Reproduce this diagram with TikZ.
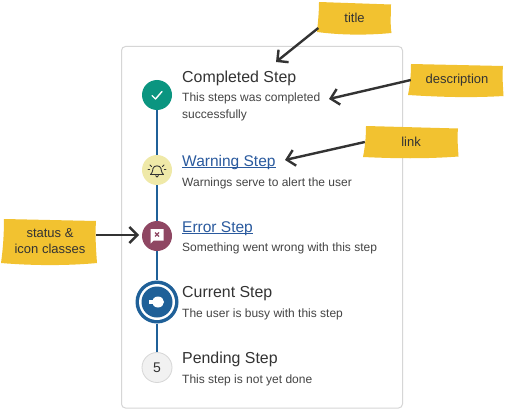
\documentclass[tikz,border=0pt]{standalone}
\usepackage{fontspec}
\setmainfont{Liberation Sans}
\usetikzlibrary{arrows.meta}
\definecolor{ink}{HTML}{333333}
\definecolor{subink}{HTML}{444444}
\definecolor{cardline}{HTML}{D6D6D6}
\definecolor{track}{HTML}{1F6098}
\definecolor{done}{HTML}{0B9580}
\definecolor{warnfill}{HTML}{EFE9A8}
\definecolor{errfill}{HTML}{8F4763}
\definecolor{pendfill}{HTML}{F1F1F1}
\definecolor{sticky}{HTML}{F2C230}
\definecolor{linkblue}{HTML}{2A5A9E}
\definecolor{arrowink}{HTML}{333333}
\newsavebox{\ulbox}
\newcommand{\ulined}[1]{\sbox{\ulbox}{#1}\rlap{\rule[-2pt]{\wd\ulbox}{1pt}}\usebox{\ulbox}}
\tikzset{
  x=1pt,y=-1pt,
  stepdot/.style={circle,inner sep=0pt,minimum size=30,line width=0.8},
  steptitle/.style={anchor=base west,inner sep=0pt,text=ink,font=\fontsize{15.9}{18}\selectfont},
  steplink/.style={anchor=base west,inner sep=0pt,text=linkblue,font=\fontsize{15.5}{18}\selectfont},
  stepdesc/.style={anchor=base west,inner sep=0pt,text=subink,font=\fontsize{12}{14}\selectfont},
  track line/.style={draw=track,line width=2.8},
  note/.style={fill=sticky,draw=none},
  notetext/.style={inner sep=0pt,text=ink,align=center,font=\fontsize{13}{16}\selectfont},
  callout/.style={draw=arrowink,line width=2.4,-{Straight Barb[length=8,width=16,line width=2.4]}},
}
\begin{document}
\begin{tikzpicture}
\useasboundingbox (0,0) rectangle (505,417);
\fill[white] (0,0) rectangle (505,417);
% card
\draw[cardline,line width=1,rounded corners=4] (121.5,46.5) rectangle (402.5,408);
% step markers
\node[stepdot,fill=done] (s1) at (157,95) {};
\node[stepdot,fill=warnfill] (s2) at (157,170) {};
\node[stepdot,fill=errfill] (s3) at (157,236) {};
\node[circle,inner sep=0pt,minimum size=43,fill=track] (s4) at (157,302) {};
\node[stepdot,fill=pendfill,draw=cardline,text=ink,font=\fontsize{14}{16}\selectfont] (s5) at (157,367.5) {5};
% track
\draw[track line] (s1) -- (s2);
\draw[track line] (s2) -- (s3);
\draw[track line] (s3) -- (s4);
\draw[track line] (s4) -- (s5);
% current marker rings
\fill[white] (s4) circle (18);
\fill[track] (s4) circle (15.5);
% check icon
\draw[white,line width=1.4,line cap=round,line join=round] (152,95.5) -- (155.5,99) -- (162,91.5);
% bell icon
\draw[ink,line width=0.9,line join=round,line cap=round]
  (150.5,174.5) -- (163.5,174.5) .. controls (161,172) and (161.5,170) .. (161,168.5)
  .. controls (160.5,165) and (153.5,165) .. (153,168.5)
  .. controls (152.5,170) and (153,172) .. (150.5,174.5);
\draw[ink,line width=0.9] (155.5,175.5) .. controls (156,177.5) and (158,177.5) .. (158.5,175.5);
\draw[ink,line width=0.8,line cap=round] (150,165) -- (151.5,166.5) (164,165) -- (162.5,166.5)
  (148,169.5) -- (149.8,169.5) (166,169.5) -- (164.2,169.5);
% error icon
\fill[white] (150.5,229) -- (163.5,229) -- (163.5,240.5) -- (153.5,240.5) -- (150.5,243.5) -- cycle;
\draw[errfill,line width=1.1] (155,232.5) -- (159,236.5) (159,232.5) -- (155,236.5);
% current icon
\fill[white] (158,302) ellipse (6 and 5.5);
\fill[white] (149,299.8) rectangle (154,304.2);
% card texts
\node[steptitle] (t1) at (182,83) {Completed Step};
\node[stepdesc] (d1) at (182,102) {This steps was completed};
\node[stepdesc] (d1b) at (182,118.5) {successfully};
\node[steplink] (t2) at (182,166) {\ulined{Warning Step}};
\node[stepdesc] (d2) at (182,186) {Warnings serve to alert the user};
\node[steplink] (t3) at (182,232) {\ulined{Error Step}};
\node[stepdesc] (d3) at (182,251) {Something went wrong with this step};
\node[steptitle] (t4) at (182,297.5) {Current Step};
\node[stepdesc] (d4) at (182,317) {The user is busy with this step};
\node[steptitle] (t5) at (182,363.5) {Pending Step};
\node[stepdesc] (d5) at (182,383) {This step is not yet done};
% notes
\fill[note] (319,2) -- (391,4.5) .. controls (391,14) and (390,24) .. (391.5,33) .. controls (365,35.5) and (340,35) .. (317,32) .. controls (318,22) and (319,12) .. cycle;
\fill[note] (411,64) -- (503,66) .. controls (502,76) and (503,86) .. (503.5,96) .. controls (470,98) and (440,97) .. (408,95) .. controls (410,85) and (411,75) .. cycle;
\fill[note] (366,126) -- (458,128.5) .. controls (457,138) and (458,148) .. (458.5,156.5) .. controls (425,159) and (395,158.5) .. (363,157) .. controls (365,147) and (366,137) .. cycle;
\fill[note] (4,219) -- (96,221) .. controls (95,235) and (96,250) .. (97,263) .. controls (65,266) and (30,265.5) .. (1,263) .. controls (3,249) and (4,234) .. cycle;
\node[notetext,minimum width=72,minimum height=30] (ntitle) at (354.5,18) {title};
\node[notetext,minimum width=92,minimum height=30] (ndesc) at (457,80) {description};
\node[notetext,minimum width=92,minimum height=30] (nlink) at (411,142) {link};
\node[notetext,minimum width=92,minimum height=42] (nstatus) at (50,241.5) {status \&\\icon classes};
% callouts
\coordinate (atitle) at (276,62);
\coordinate (adesc) at (329,99);
\coordinate (alink) at (285,160);
\coordinate (astatus) at (139,235);
\draw[callout] ([yshift=-10]ntitle.west) -- (atitle);
\draw[callout] (ndesc.west) -- (adesc);
\draw[callout] (nlink.west) -- (alink);
\draw[callout] ([yshift=6.5]nstatus.east) -- (astatus);
\end{tikzpicture}
\end{document}
